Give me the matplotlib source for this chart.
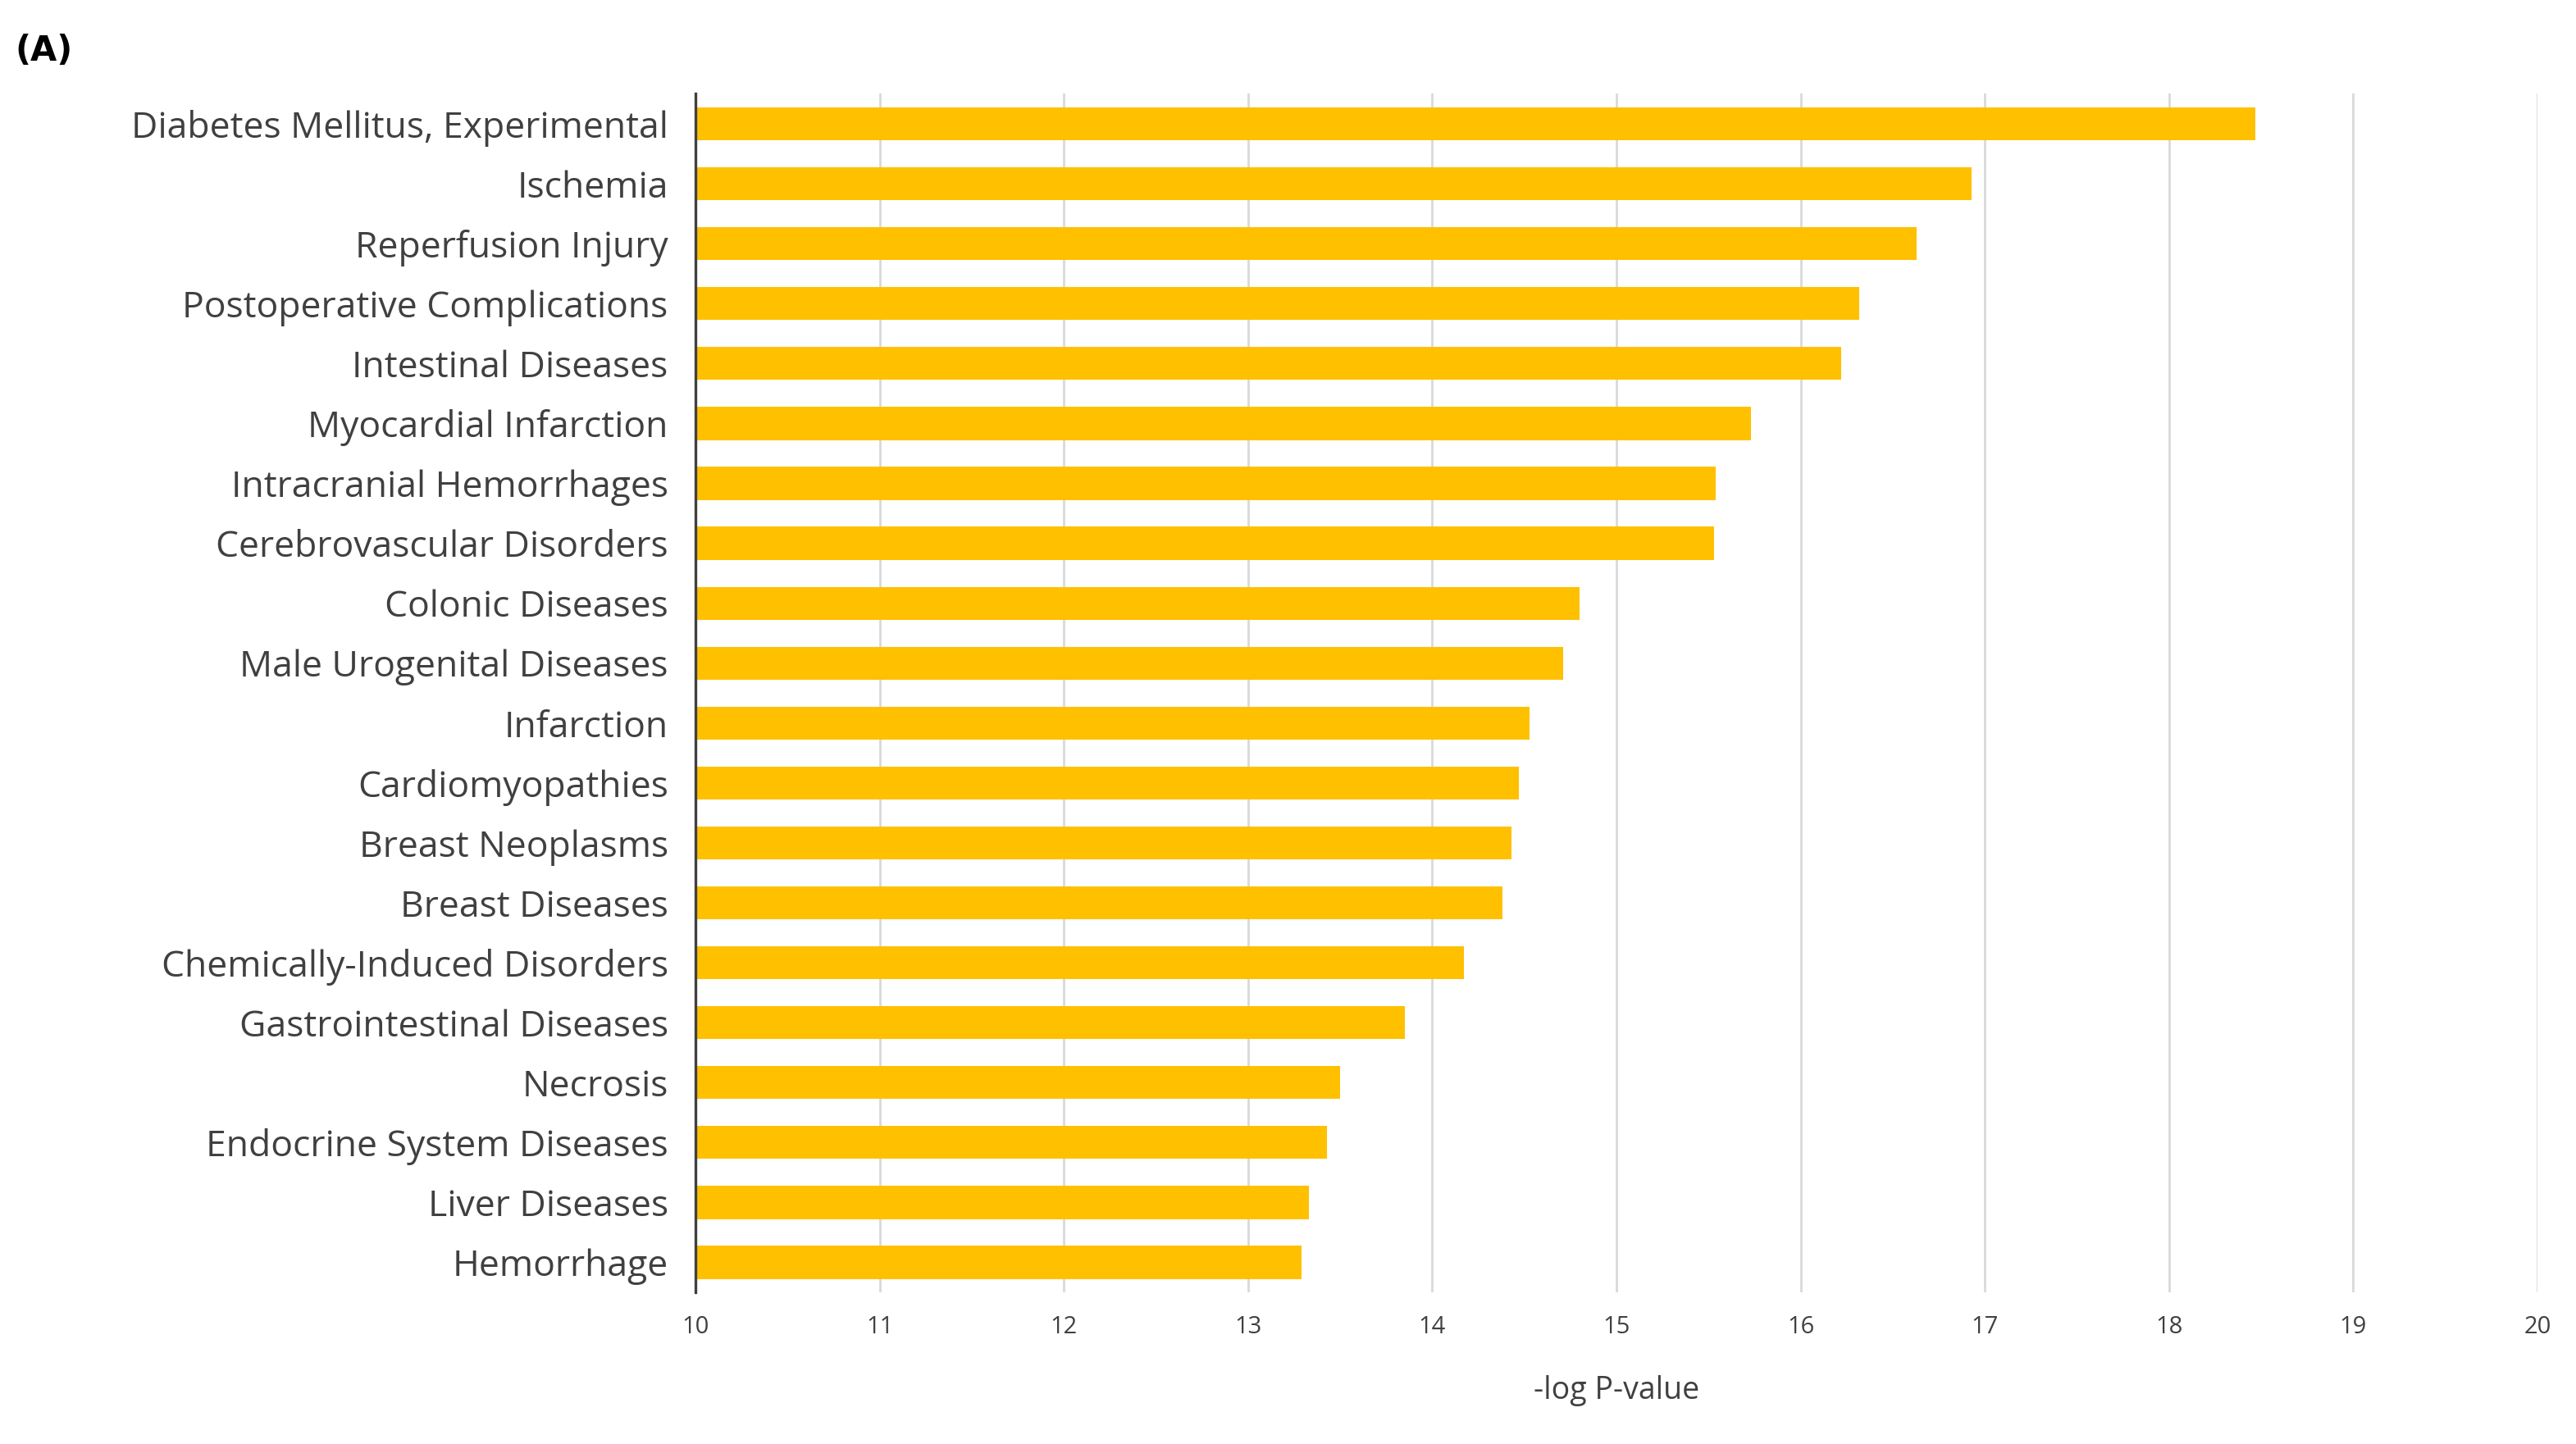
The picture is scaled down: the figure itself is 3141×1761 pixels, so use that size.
import matplotlib
matplotlib.use("Agg")
import matplotlib.pyplot as plt

categories = [
    "Diabetes Mellitus, Experimental", "Ischemia", "Reperfusion Injury",
    "Postoperative Complications", "Intestinal Diseases", "Myocardial Infarction",
    "Intracranial Hemorrhages", "Cerebrovascular Disorders", "Colonic Diseases",
    "Male Urogenital Diseases", "Infarction", "Cardiomyopathies",
    "Breast Neoplasms", "Breast Diseases", "Chemically-Induced Disorders",
    "Gastrointestinal Diseases", "Necrosis", "Endocrine System Diseases",
    "Liver Diseases", "Hemorrhage",
]
neg_log_p = [18.47, 16.93, 16.63, 16.32, 16.22, 15.73, 15.54, 15.53, 14.80, 14.71,
             14.53, 14.47, 14.43, 14.38, 14.17, 13.85, 13.50, 13.43, 13.33, 13.29]

plt.rcParams["font.family"] = ["Open Sans", "DejaVu Sans"]
fig = plt.figure(figsize=(15.705, 8.805), dpi=200)
ax = fig.add_axes([0.27, 0.105, 0.715, 0.83])

ypos = list(range(len(categories)))
ax.barh(ypos, [v - 10 for v in neg_log_p], left=10, height=0.55,
        color="#FFC000", zorder=2)
ax.set_ylim(len(categories) - 0.5, -0.5)
ax.set_yticks(ypos)
ax.set_yticklabels(categories, fontsize=16, color="#404040")
ax.set_xlim(10, 20)
ax.set_xticks(range(10, 21))
ax.tick_params(axis="x", labelsize=10.5, colors="#404040", length=0, pad=10)
ax.tick_params(axis="y", length=0, pad=12)
ax.grid(axis="x", color="#d9d9d9", linewidth=1.0, zorder=0)
for s in ["top", "right", "bottom"]:
    ax.spines[s].set_visible(False)
ax.spines["left"].set_color("#404040")
ax.spines["left"].set_linewidth(1.2)
ax.set_xlabel("-log P-value", fontsize=13.5, color="#404040", labelpad=16)

fig.text(0.006, 0.965, "(A)", fontsize=15, fontweight="bold", va="center",
         family="DejaVu Sans")

fig.savefig("out.png", dpi=200, facecolor="white")
